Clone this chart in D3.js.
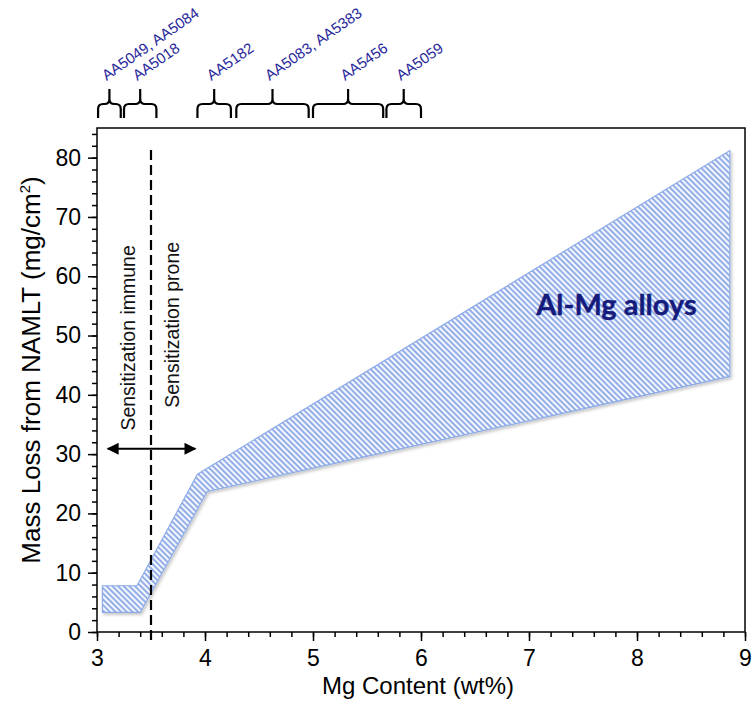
<!DOCTYPE html>
<html><head><meta charset="utf-8">
<script src="https://cdn.jsdelivr.net/npm/d3@7"></script>
<style>
body{margin:0;background:#fff}
</style>
</head><body>
<svg id="c" width="754" height="702" style="font-family:'Liberation Sans',Arial,Helvetica,sans-serif"></svg>
<script>
// ---- data ----
const upperX = [3.05, 3.37, 3.93, 8.86];
const upperY = [7.8, 7.8, 26.6, 81.2];
const lowerX = [3.05, 3.40, 4.02, 8.86];
const lowerY = [3.3, 3.3, 23.7, 43.1];
const xTicks = [3, 4, 5, 6, 7, 8, 9];
const yTicks = [0, 10, 20, 30, 40, 50, 60, 70, 80];
const alloyLabels = ["AA5049, AA5084", "AA5018", "AA5182", "AA5083, AA5383", "AA5456", "AA5059"];
const alloyMin = [3.01, 3.25, 3.93, 4.29, 5.00, 5.68];
const alloyMax = [3.22, 3.55, 4.24, 4.96, 5.65, 6.00];
const thresholdMg = 3.5;
const arrowX = [3.10, 3.91];
const arrowY = 30.9;
const regionLabels = ["Sensitization immune", "Sensitization prone"];
const bandLabel = "Al-Mg alloys";

// ---- layout ----
const m = {l: 97, t: 128, r: 9, b: 70};
const W = 754, H = 702;
const w = W - m.l - m.r, h = H - m.t - m.b;
const svg = d3.select("#c");
const x = d3.scaleLinear().domain([3, 9]).range([m.l, m.l + w]);
const y = d3.scaleLinear().domain([0, 85]).range([m.t + h, m.t]);

const defs = svg.append("defs");
const pat = defs.append("pattern").attr("id", "hatch").attr("patternUnits", "userSpaceOnUse")
  .attr("width", 4).attr("height", 4).attr("patternTransform", "rotate(-45)");
pat.append("rect").attr("width", 4).attr("height", 4).attr("fill", "#f4f7fd");
pat.append("line").attr("x1", 1).attr("y1", 0).attr("x2", 1).attr("y2", 4)
  .attr("stroke", "#7496e2").attr("stroke-width", 1.5);
const f = defs.append("filter").attr("id", "sh").attr("x", "-10%").attr("y", "-10%").attr("width", "130%").attr("height", "130%");
f.append("feDropShadow").attr("dx", 1.5).attr("dy", 2).attr("stdDeviation", 1.5)
  .attr("flood-color", "#000").attr("flood-opacity", 0.22);
const mk = defs.append("marker").attr("id", "ah").attr("viewBox", "0 0 10 10")
  .attr("refX", 9).attr("refY", 5).attr("markerUnits", "userSpaceOnUse")
  .attr("markerWidth", 14).attr("markerHeight", 12).attr("orient", "auto-start-reverse");
mk.append("path").attr("d", "M0,0 L10,5 L0,10 Z").attr("fill", "#000");

// band
const pts = upperX.map((v, i) => [x(v), y(upperY[i])])
  .concat(lowerX.map((v, i) => [x(v), y(lowerY[i])]).reverse());
svg.append("path").attr("d", d3.line()(pts) + "Z")
  .attr("fill", "url(#hatch)").attr("stroke", "#8eabe8").attr("stroke-width", 1.2)
  .attr("filter", "url(#sh)");

// axes
const xAxis = svg.append("g").attr("transform", `translate(0,${m.t + h})`);
xAxis.call(d3.axisBottom(x).tickValues(d3.range(3, 9.001, 0.2)).tickSize(5).tickFormat(""));
xAxis.select(".domain").remove();
const xMaj = svg.append("g").attr("transform", `translate(0,${m.t + h})`)
  .call(d3.axisBottom(x).tickValues(xTicks).tickSize(9).tickPadding(9).tickFormat(d3.format("d")));
xMaj.select(".domain").remove();
const yAxis = svg.append("g").attr("transform", `translate(${m.l},0)`);
yAxis.call(d3.axisLeft(y).tickValues(d3.range(0, 84.001, 2)).tickSize(5).tickFormat(""));
yAxis.select(".domain").remove();
const yMaj = svg.append("g").attr("transform", `translate(${m.l},0)`)
  .call(d3.axisLeft(y).tickValues(yTicks).tickSize(9).tickPadding(7).tickFormat(d3.format("d")));
yMaj.select(".domain").remove();
svg.selectAll(".tick line").attr("stroke", "#000").attr("stroke-width", 1.5);
svg.selectAll(".tick text").attr("font-size", 23).attr("fill", "#000")
  .style("font-family", "'Liberation Sans', Arial, sans-serif");

// frame
svg.append("rect").attr("x", m.l).attr("y", m.t).attr("width", w).attr("height", h)
  .attr("fill", "none").attr("stroke", "#000").attr("stroke-width", 1.5);

// threshold dashed line
svg.append("line").attr("x1", x(thresholdMg)).attr("x2", x(thresholdMg))
  .attr("y1", m.t + 22).attr("y2", m.t + h + 9)
  .attr("stroke", "#000").attr("stroke-width", 2.2).attr("stroke-dasharray", "10,5");

// arrow
svg.append("line").attr("x1", x(arrowX[0])).attr("x2", x(arrowX[1]))
  .attr("y1", y(arrowY)).attr("y2", y(arrowY))
  .attr("stroke", "#000").attr("stroke-width", 2)
  .attr("marker-start", "url(#ah)").attr("marker-end", "url(#ah)");

// region labels
svg.append("text").attr("transform", `translate(${x(3.35)},${y(49.6)}) rotate(-90)`)
  .attr("text-anchor", "middle").attr("font-size", 19.5).attr("fill", "#111").text(regionLabels[0]);
svg.append("text").attr("transform", `translate(${x(3.76)},${y(51.8)}) rotate(-90)`)
  .attr("text-anchor", "middle").attr("font-size", 19.5).attr("fill", "#111").text(regionLabels[1]);

// band label
svg.append("text").attr("x", x(7.81)).attr("y", y(53.4)).attr("text-anchor", "middle")
  .style("font-family", "Lato, 'Open Sans', sans-serif").attr("font-weight", "bold")
  .attr("font-size", 29).attr("fill", "#151b7c").attr("stroke", "#151b7c").attr("stroke-width", 0.4)
  .text(bandLabel);

// axis titles
svg.append("text").attr("x", m.l + w / 2 - 3).attr("y", 694).attr("text-anchor", "middle")
  .attr("font-size", 24).text("Mg Content (wt%)");
const yl = svg.append("text").attr("transform", `translate(40,${370}) rotate(-90)`)
  .attr("text-anchor", "middle").attr("font-size", 26);
yl.append("tspan").text("Mass Loss from NAMLT (mg/cm");
yl.append("tspan").attr("font-size", 15).attr("dy", -10).text("2");
yl.append("tspan").attr("dy", 10).text(")");

// alloy brackets
const bTop = 89, bArm = 104, bEnd = 118, r = 5;
alloyLabels.forEach((lab, i) => {
  const x0 = x(alloyMin[i]), x1 = x(alloyMax[i]), xc = (x0 + x1) / 2;
  const d = `M${x0},${bEnd} L${x0},${bArm + r} Q${x0},${bArm} ${x0 + r},${bArm} L${xc - r},${bArm} Q${xc},${bArm} ${xc},${bArm - r} L${xc},${bTop}` +
    ` M${xc},${bArm - r} Q${xc},${bArm} ${xc + r},${bArm} L${x1 - r},${bArm} Q${x1},${bArm} ${x1},${bArm + r} L${x1},${bEnd}`;
  svg.append("path").attr("d", d).attr("fill", "none").attr("stroke", "#000").attr("stroke-width", 2.2);
  svg.append("text").attr("transform", `translate(${xc - 3},${81}) rotate(-35)`)
    .attr("font-size", 15).attr("fill", "#27279a").text(lab);
});
</script>
</body></html>
